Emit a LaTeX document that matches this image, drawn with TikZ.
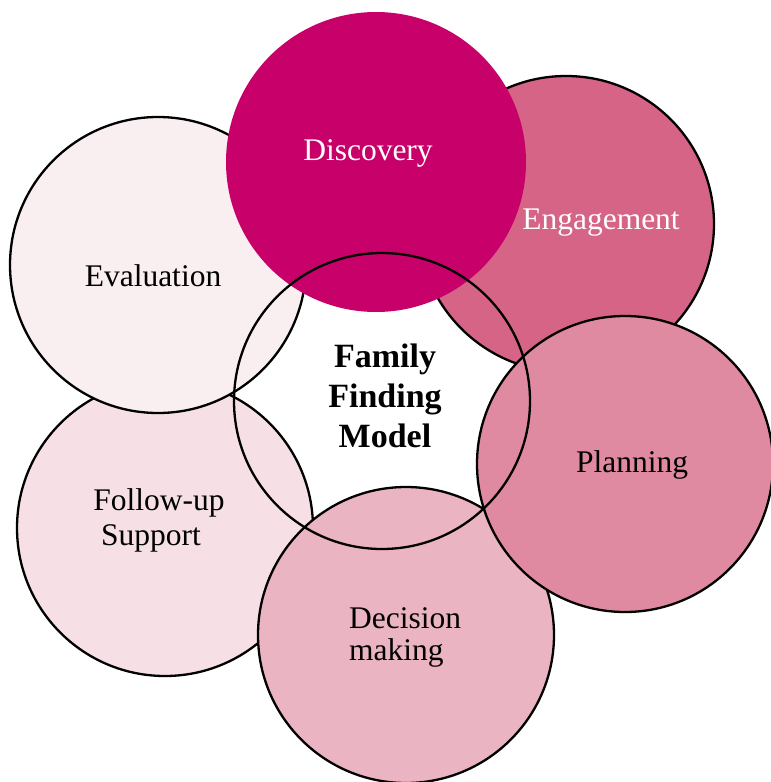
\documentclass[tikz,border=0pt]{standalone}
\usepackage{fontspec}
\setmainfont{Liberation Serif}
\definecolor{cDisc}{RGB}{200,0,106}
\definecolor{cEng}{RGB}{213,100,135}
\definecolor{cPlan}{RGB}{224,138,162}
\definecolor{cDec}{RGB}{235,180,194}
\definecolor{cFol}{RGB}{246,224,230}
\definecolor{cEval}{RGB}{249,238,240}
\begin{document}
\begin{tikzpicture}[x=1pt,y=-1pt,
  ring/.style={circle,draw=black,line width=2.3pt,minimum size=296pt,inner sep=0pt},
  lbl/.style={font=\fontsize{31.5}{37}\selectfont,inner sep=0pt},
  ctr/.style={font=\fontsize{34}{40}\selectfont\bfseries,align=center,inner sep=0pt}]
\useasboundingbox (0,0) rectangle (771,782);
\node[ring,fill=cFol] (fol) at (165,528) {};
\node[ring,fill=cEval] (eval) at (158,265) {};
\node[ring,fill=cDec] (dec) at (406,635) {};
\node[ring,fill=cEng] (eng) at (566,224) {};
\node[ring,fill=cPlan] (plan) at (625,464) {};
\node[circle,fill=cDisc,minimum size=300pt,inner sep=0pt] (disc) at (376,162) {};
\node[ring] (core) at (382,401) {};
\node[lbl,text=white] (tdisc) at (368,153) {Discovery};
\node[lbl,text=white] (teng) at (601,223) {Engagement};
\node[lbl] (teval) at (153,276) {Evaluation};
\node[lbl] (tplan) at (632,465) {Planning};
\node[lbl] (tfol1) at (159,503) {Follow-up};
\node[lbl] (tfol2) at (151,538) {Support};
\node[lbl,anchor=west] (tdec1) at (349,618) {Decision};
\node[lbl,anchor=west] (tdec2) at (349,653) {making};
\node[ctr] (tcore) at (385,396) {Family\\Finding\\Model};
\end{tikzpicture}
\end{document}
